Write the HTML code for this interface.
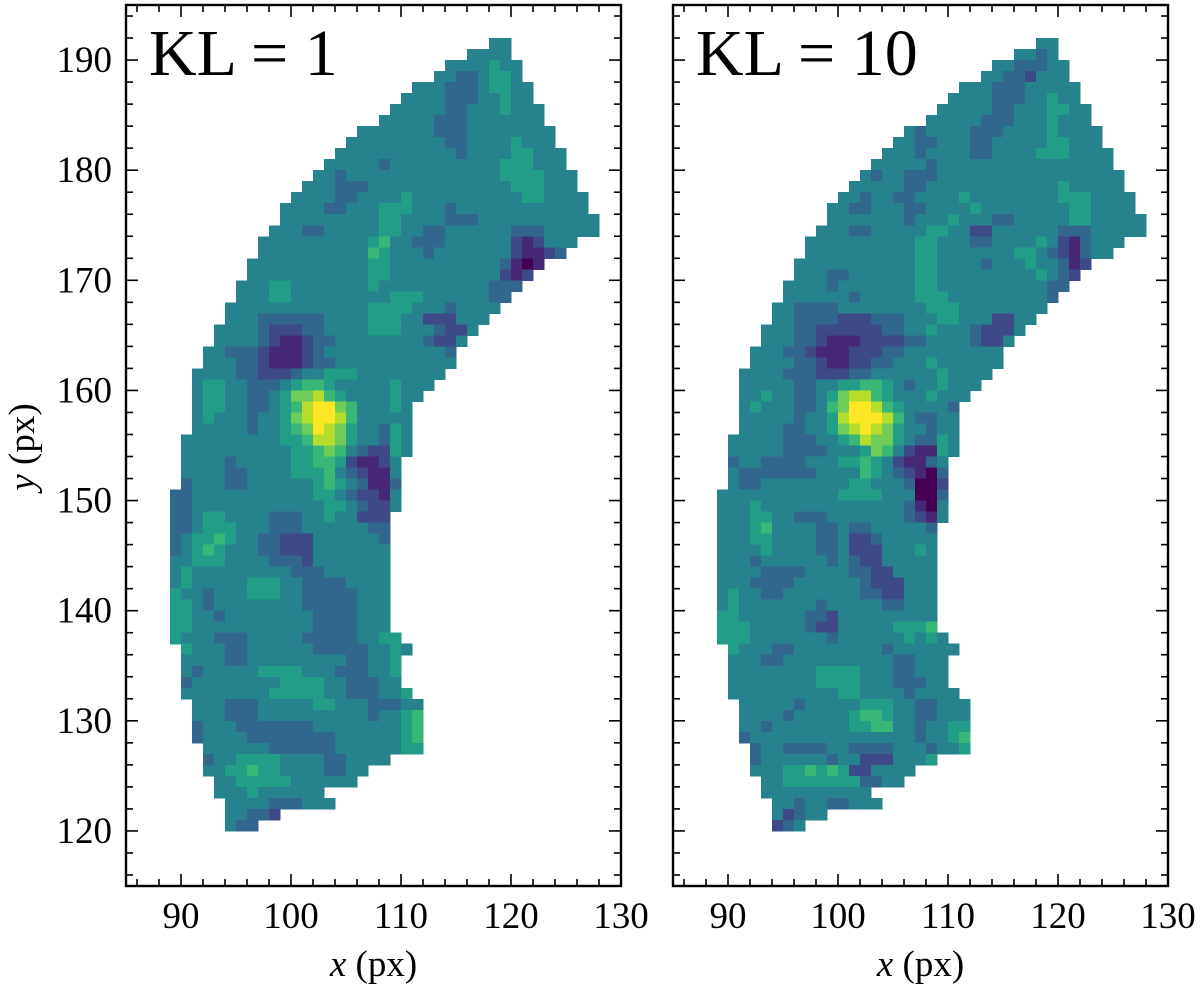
<!DOCTYPE html>
<html><head><meta charset="utf-8"><style>
html,body{margin:0;padding:0;background:#fff;}
svg{display:block;}
text{font-family:"Liberation Serif","DejaVu Serif",serif;fill:#000;}
</style></head><body>
<svg id="fig" width="1200" height="991" viewBox="0 0 1200 991" xmlns="http://www.w3.org/2000/svg">
<g id="left"></g>
<g id="right"></g>
</svg>
<script>
// rows from y=191 down to y=120
const rowY = [];
for (let y = 191; y >= 120; y--) rowY.push(y);
// first column (x index) of each row
const rowStart = [118,116,114,113,111,110,109,108,106,105,104,103,102,101,100,99,99,98,97,97,96,96,95,95,94,94,93,93,92,92,91,91,91,91,91,91,90,90,90,90,90,89,89,89,89,89,89,89,89,89,89,89,89,89,89,90,90,90,90,90,91,91,91,91,92,92,92,93,93,94,94];
rowStart.push(94);
// values (0-9 scale) for KL = 1
const valsKL1 = ["44","4444","4444544","44334554","44433345544","444433344544","44444334445444","444443334444444","444444433344444444","4444444443344445444","444444444443444455444","4444434444444444555444","443444444444444445555444","4443334444444444444555444","444433444454444444444554444","4444334445554443444444444444","44444444455444433344444444444","444334444455443344444433344444","44444444445644333444444212444","4444444444654443444444421123","444444444445544444444443101","44444444444554444444444212","44455444444454444444444333","4445544444444455544444433","4444444444444555544434444","444333333444455544222444","444432223344445554443224","44443211233444444443224","44333211123444444444443","44433211123344444444444","44443322234455544444444","4554433345665444445444","455443345778654444544","45544334568997644454","45444344578998644444","44444344567987544354","444444444556887544354","444444444455676432254","44443444445566521124","44443344445556432114","34443344444456543113","334444444444455432214","334444444444445543224","33455444433344544222","33455544433344444433","34556544332224444443","34565444332224444444","44555444433324444444","45444444444333444444","45444445554433334444","54434445554433333444","55434444444433333444","55443444444443333444","55444444444443333444","544433344444333334455","544433444444333334454","44443344444444433445","43444445555444333445","34444444455554433344","444444445555544333445","444333444445544433344","444333444444444434456","344433333334444444456","344443333333344444456","44444433333344444455","34455554444334444","445565544443344","4455555444444","4445444444","4444333444","44332","433"];
// values (0-9 scale) for KL = 10
const valsKL10 = ["44","4434","4433344","44332444","44433344444","444433344544","44444334445544","444443334445444","434444333444454444","4433444334444455444","444344443344445554444","4444434444444444444444","434433344444444444444444","4444433444444444444544444","443443344445444444445554444","4433444334444544444444554444","44444443444544433444445544444","444334444455442244444433344444","44444444445544433444454213444","4444444444554444444554321344","444444444445544443444544312","44433444444554444444445432","44443444444455444444444433","4444443444445554444444443","4433334444444455544444444","443333222333444554442244","444332222223344544432224","44433211122223344443224","44433211122233444444444","44443321122334445444444","44443332223344444454444","4444433445566543445444","445443345788654445444","45444334679986544443","44444344589998643344","44443344578987544344","444443334456877543354","444443333444576421154","34433334445565421134","43333333444465432103","43344444444554443002","444444444445555444003","444544444444444443104","444554433344444443214","44456444433433444443","44455444433422344444","44445444433422244454","44434444443432244444","44443333444433224444","44433334444443222444","45443344444443322444","45444444434444433444","55444444332444444444","55544444322444445556","555444444434444445454","544433444444443444444","44433444444444433444","44444444555544433444","44444444555544433344","444444444455444434444","444443444445554433444","444434444456654433444","443444444455664434455","344444444444444434456","34433334433334443445","34444443442224445","444556565224444","4455555553344","4444444444","4434433444","42344","234"];
// axis tick values
const xTicks = [90,100,110,120,130];
const yTicks = [120,130,140,150,160,170,180,190];
const titles = ["KL = 1","KL = 10"];

const NS = "http://www.w3.org/2000/svg";
const stops = ["#440154","#482475","#414487","#355f8d","#2a788e","#21918c","#22a884","#44bf70","#7ad151","#bddf26","#fde725"];
function hex(c){return [parseInt(c.slice(1,3),16),parseInt(c.slice(3,5),16),parseInt(c.slice(5,7),16)];}
function viridis(t){t=Math.max(0,Math.min(1,t));const f=t*10,i=Math.min(9,Math.floor(f)),r=f-i;const a=hex(stops[i]),b=hex(stops[i+1]);return "rgb("+a.map((v,k)=>Math.round(v+(b[k]-v)*r)).join(",")+")";}
function mk(tag,attrs,parent){const e=document.createElementNS(NS,tag);for(const k in attrs)e.setAttribute(k,attrs[k]);parent.appendChild(e);return e;}

function panel(g, x0, vals, title, showY){
  const X0=85,X1=130,Y0=115,Y1=195;
  const px=v=>x0+(v-X0)*11;
  const py=v=>5+(Y1-v)*11.0125;
  const cells=mk("g",{"shape-rendering":"crispEdges"},g);
  
  
  rowY.forEach((y,ri)=>{
    const s=vals[ri]||"";
    for(let k=0;k<s.length;k++){
      const c=rowStart[ri]+k;const v=+s[k];
      const r=mk("rect",{x:px(c),y:py(y+1),width:11.6,height:11.6,fill:viridis(v/9)},cells);
      
      
    }
  });
  const ax=mk("g",{stroke:"#000","stroke-width":"1.6",fill:"none"},g);
  
  
  mk("rect",{x:px(X0),y:py(Y1),width:px(X1)-px(X0),height:py(Y0)-py(Y1),"stroke-width":"2.4"},ax);
  for(let v=86;v<=130;v+=2){
    const L=(v%10===0)?12:7;
    mk("line",{x1:px(v),x2:px(v),y1:py(Y0),y2:py(Y0)-L},ax);
    mk("line",{x1:px(v),x2:px(v),y1:py(Y1),y2:py(Y1)+L},ax);
  }
  for(let v=116;v<=194;v+=2){
    const L=(v%10===0)?12:7;
    mk("line",{x1:px(X0),x2:px(X0)+L,y1:py(v),y2:py(v)},ax);
    mk("line",{x1:px(X1),x2:px(X1)-L,y1:py(v),y2:py(v)},ax);
  }
  xTicks.forEach(v=>{
    const t=mk("text",{x:px(v),y:928,"text-anchor":"middle","font-size":"37"},g);t.textContent=v;
    
    
  });
  if(showY){yTicks.forEach(v=>{
    const t=mk("text",{x:112,y:py(v)+12,"text-anchor":"end","font-size":"37"},g);t.textContent=v;
    
    
  });}
  const xl=mk("text",{x:(px(X0)+px(X1))/2,y:976,"text-anchor":"middle","font-size":"37"},g);
  xl.innerHTML='<tspan font-style="italic">x</tspan> (px)';
  
  
  const tt=mk("text",{x:px(X0)+23,y:75,"font-size":"66"},g);tt.textContent=title;
  
  
}
panel(document.getElementById('left'),126,valsKL1,titles[0],true);
panel(document.getElementById('right'),673,valsKL10,titles[1],false);
const yl=mk("text",{x:0,y:0,"text-anchor":"middle","font-size":"37",transform:"translate(34,447) rotate(-90)"},document.getElementById('fig'));
yl.innerHTML='<tspan font-style="italic">y</tspan> (px)';


</script>
</body></html>
